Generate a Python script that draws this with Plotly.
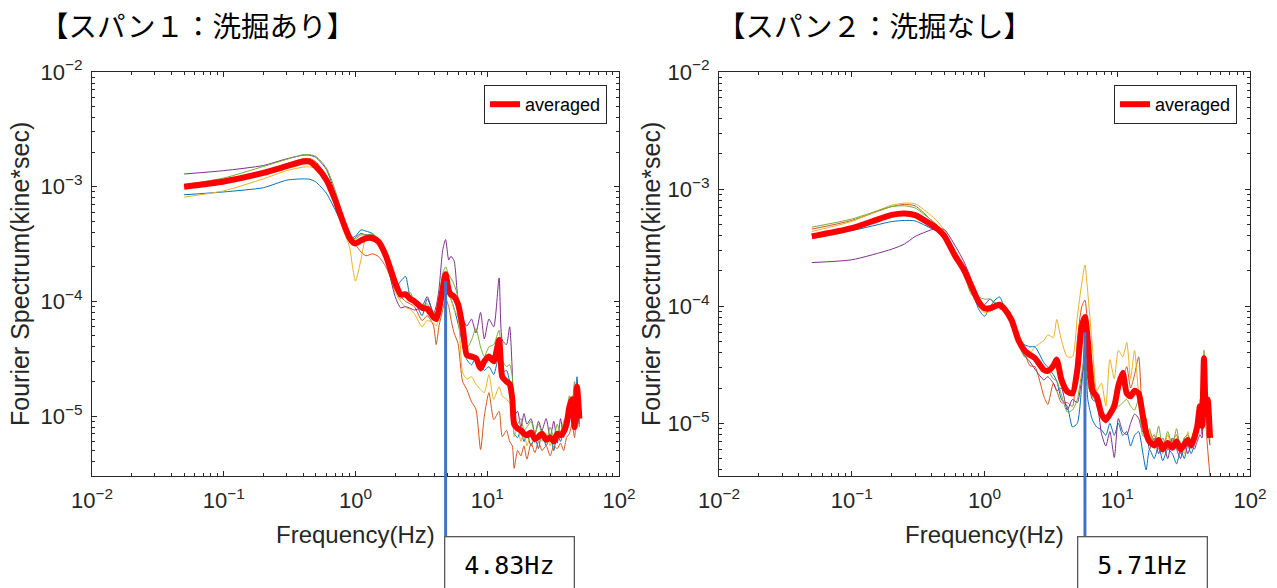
import numpy as np
import plotly.graph_objects as go

W, H = 1277, 588

# ---------------- data : span 1 (scour) ----------------
freq_L = [0.05, 0.1, 0.2, 0.3, 0.4, 0.45, 0.5, 0.6, 0.7, 0.8,
          0.9, 0.95, 1.0, 1.1, 1.2, 1.35, 1.5, 1.7, 2.0, 2.2,
          2.4, 2.6, 2.8, 3.2, 3.5, 3.9, 4.1, 4.3, 4.6, 4.83,
          5.1, 5.3, 5.6, 6.0, 6.5, 7.0, 7.6, 8.2, 8.9, 9.5,
          10.3, 11.2, 12.3, 13, 14, 14.8, 15.5, 16, 17, 18,
          19, 20, 21.5, 23, 24.5, 26, 28, 30, 32, 34,
          36, 38, 40, 42, 44, 46, 48, 50]

blue_L = [8.5e-4, 9.0e-4, 9.8e-4, 1.14e-3, 1.17e-3, 1.16e-3, 1.1e-3, 8.8e-4, 6.3e-4, 4.6e-4,
          3.7e-4, 3.6e-4, 3.7e-4, 4.2e-4, 4.1e-4, 3.9e-4, 3.4e-4, 2.3e-4, 1.3e-4, 1.5e-4,
          1.65e-4, 1.1e-4, 1.03e-4, 7.5e-5, 1.05e-4, 8.0e-5, 7.5e-5, 9.0e-5, 1.25e-4, 1.5e-4,
          1.2e-4, 1.05e-4, 8.7e-5, 6.4e-5, 4.3e-5, 3.1e-5, 2.8e-5, 3.3e-5, 2.8e-5, 2.5e-5,
          2.7e-5, 2.3e-5, 3.4e-5, 2.4e-5, 2.5e-5, 2.0e-5, 1.65e-5, 7.0e-6, 6.5e-6, 7.5e-6,
          6.0e-6, 7.0e-6, 5.5e-6, 6.5e-6, 5.2e-6, 7.5e-6, 5.5e-6, 6.8e-6, 5.0e-6, 7.0e-6,
          6.0e-6, 7.5e-6, 9.0e-6, 1.3e-5, 1.1e-5, 8.0e-6, 2.2e-5, 9.0e-6]
orange_L = [1.0e-3, 1.12e-3, 1.36e-3, 1.58e-3, 1.75e-3, 1.76e-3, 1.65e-3, 1.25e-3, 8.0e-4, 5.0e-4,
            3.4e-4, 3.2e-4, 3.1e-4, 2.7e-4, 2.5e-4, 2.6e-4, 2.45e-4, 2.0e-4, 1.3e-4, 1.1e-4,
            1.0e-4, 9.5e-5, 9.0e-5, 6.8e-5, 7.5e-5, 6.2e-5, 4.2e-5, 6.1e-5, 8.5e-5, 1.05e-4,
            9.0e-5, 7.0e-5, 5.3e-5, 4.3e-5, 2.0e-5, 1.7e-5, 1.33e-5, 1.15e-5, 5.1e-6, 1.0e-5,
            1.6e-5, 9.3e-6, 1.1e-5, 6.6e-6, 7.5e-6, 6.0e-6, 5.5e-6, 3.5e-6, 5.0e-6, 4.5e-6,
            5.5e-6, 4.2e-6, 5.8e-6, 4.8e-6, 6.0e-6, 5.0e-6, 5.5e-6, 4.5e-6, 5.5e-6, 5.2e-6,
            5.8e-6, 5.0e-6, 6.5e-6, 7.0e-6, 8.5e-6, 6.5e-6, 1.2e-5, 8.0e-6]
yellow_L = [8.1e-4, 9.2e-4, 1.17e-3, 1.38e-3, 1.48e-3, 1.49e-3, 1.43e-3, 1.18e-3, 7.8e-4, 4.3e-4,
            3.0e-4, 2.0e-4, 1.5e-4, 2.3e-4, 3.6e-4, 3.8e-4, 3.2e-4, 2.3e-4, 1.2e-4, 1.0e-4,
            8.9e-5, 8.5e-5, 7.8e-5, 6.0e-5, 6.8e-5, 6.5e-5, 6.1e-5, 7.2e-5, 1.0e-4, 1.27e-4,
            1.1e-4, 1.05e-4, 8.5e-5, 7.3e-5, 2.4e-5, 2.1e-5, 2.2e-5, 1.9e-5, 1.7e-5, 1.6e-5,
            2.3e-5, 1.4e-5, 1.8e-5, 1.5e-5, 1.4e-5, 1.3e-5, 1.2e-5, 6.6e-6, 8.0e-6, 6.0e-6,
            7.5e-6, 5.5e-6, 7.0e-6, 5.8e-6, 7.2e-6, 6.0e-6, 7.0e-6, 5.5e-6, 6.8e-6, 6.0e-6,
            7.5e-6, 7.0e-6, 8.5e-6, 1.2e-5, 1.1e-5, 9.0e-6, 1.5e-5, 1.1e-5]
purple_L = [1.29e-3, 1.38e-3, 1.53e-3, 1.75e-3, 1.88e-3, 1.88e-3, 1.8e-3, 1.42e-3, 8.8e-4, 5.2e-4,
            3.6e-4, 3.4e-4, 3.6e-4, 3.9e-4, 3.8e-4, 3.8e-4, 3.3e-4, 2.3e-4, 1.1e-4, 8.8e-5,
            9.0e-5, 8.7e-5, 8.4e-5, 9.0e-5, 1.1e-4, 7.8e-5, 9.1e-5, 1.27e-4, 2.84e-4, 3.46e-4,
            2.3e-4, 2.47e-4, 2.26e-4, 1.03e-4, 7.1e-5, 6.1e-5, 7.0e-5, 5.3e-5, 8.0e-5, 4.7e-5,
            7.0e-5, 6.0e-5, 1.6e-4, 4.6e-5, 4.2e-5, 6.0e-5, 2.4e-5, 1.0e-5, 1.1e-5, 8.0e-6,
            1.05e-5, 8.5e-6, 9.5e-6, 7.0e-6, 9.0e-6, 7.5e-6, 9.5e-6, 6.5e-6, 9.0e-6, 5.8e-6,
            9.5e-6, 6.5e-6, 9.0e-6, 1.1e-5, 1.2e-5, 8.5e-6, 1.1e-5, 8.5e-6]
green_L = [1.04e-3, 1.19e-3, 1.5e-3, 1.73e-3, 1.9e-3, 1.9e-3, 1.84e-3, 1.46e-3, 9.4e-4, 5.4e-4,
           3.8e-4, 3.6e-4, 3.5e-4, 3.8e-4, 3.8e-4, 3.85e-4, 3.5e-4, 2.4e-4, 1.3e-4, 1.05e-4,
           1.18e-4, 1.2e-4, 1.0e-4, 9.3e-5, 9.5e-5, 8.0e-5, 8.0e-5, 1.07e-4, 1.77e-4, 2.0e-4,
           1.7e-4, 1.6e-4, 1.4e-4, 1.1e-4, 4.6e-5, 3.9e-5, 4.6e-5, 5.8e-5, 4.0e-5, 3.3e-5,
           4.0e-5, 4.2e-5, 5.6e-5, 3.1e-5, 2.7e-5, 2.8e-5, 2.2e-5, 1.0e-5, 8.5e-6, 9.5e-6,
           7.5e-6, 8.0e-6, 9.0e-6, 7.0e-6, 8.5e-6, 7.0e-6, 6.0e-6, 8.0e-6, 6.5e-6, 8.5e-6,
           7.0e-6, 9.0e-6, 1.0e-5, 1.5e-5, 1.3e-5, 2.0e-5, 1.4e-5, 1.0e-5]
avg_L = [1.0e-3, 1.11e-3, 1.32e-3, 1.51e-3, 1.66e-3, 1.65e-3, 1.5e-3, 1.15e-3, 7.7e-4, 5.0e-4,
         3.6e-4, 3.3e-4, 3.2e-4, 3.4e-4, 3.55e-4, 3.55e-4, 3.3e-4, 2.5e-4, 1.45e-4, 1.15e-4,
         1.15e-4, 1.05e-4, 1.0e-4, 8.8e-5, 8.6e-5, 7.3e-5, 7.0e-5, 8.5e-5, 1.3e-4, 1.72e-4,
         1.25e-4, 1.15e-4, 1.1e-4, 9.5e-5, 6.0e-5, 3.4e-5, 3.3e-5, 3.2e-5, 2.6e-5, 3.0e-5,
         3.3e-5, 3.0e-5, 4.6e-5, 2.2e-5, 2.0e-5, 1.9e-5, 1.4e-5, 8.5e-6, 7.8e-6, 7.5e-6,
         7.0e-6, 6.8e-6, 7.2e-6, 6.3e-6, 6.6e-6, 7.0e-6, 6.2e-6, 6.5e-6, 6.0e-6, 7.0e-6,
         6.8e-6, 7.3e-6, 8.5e-6, 1.2e-5, 1.4e-5, 8.0e-6, 1.8e-5, 9.5e-6]

# ---------------- data : span 2 (no scour) ----------------
freq_R = [0.05, 0.1, 0.2, 0.25, 0.3, 0.4, 0.45, 0.5, 0.6, 0.7,
          0.8, 0.9, 1.0, 1.1, 1.2, 1.3, 1.4, 1.6, 1.8, 2.0,
          2.2, 2.4, 2.8, 3.0, 3.3, 3.5, 3.8, 4.2, 4.6, 5.0,
          5.4, 5.71, 6.0, 6.5, 7.0, 7.6, 8.2, 8.8, 9.5, 10.2,
          11, 11.8, 12.6, 13.5, 14.5, 15.5, 16.5, 17.5, 19, 20.5,
          22, 24, 26, 28, 30, 32, 34, 36, 38, 40,
          42, 43.5, 45, 46.5, 48, 50]

blue_R = [4.1e-4, 4.43e-4, 5.28e-4, 5.4e-4, 5.35e-4, 4.6e-4, 4.35e-4, 3.9e-4, 2.7e-4, 2.0e-4,
          1.45e-4, 9.5e-5, 8.2e-5, 9.8e-5, 1.13e-4, 1.2e-4, 1.0e-4, 7.5e-5, 5.2e-5, 4.7e-5,
          4.5e-5, 4.5e-5, 3.3e-5, 3.0e-5, 2.6e-5, 2.3e-5, 1.6e-5, 1.4e-5, 9.3e-6, 1.0e-5,
          2.1e-5, 5.1e-5, 1.6e-5, 1.07e-5, 9.3e-6, 8.8e-6, 7.9e-6, 1.0e-5, 7.9e-6, 1.0e-5,
          7.9e-6, 8.5e-6, 6.4e-6, 7.9e-6, 8.5e-6, 5.8e-6, 4.0e-6, 6.0e-6, 5.0e-6, 6.5e-6,
          4.8e-6, 6.0e-6, 5.5e-6, 4.5e-6, 6.0e-6, 5.0e-6, 6.5e-6, 5.5e-6, 6.5e-6, 8.0e-6,
          1.5e-5, 9.0e-6, 2.3e-5, 1.4e-5, 1.3e-5, 8.0e-6]
orange_R = [4.55e-4, 5.4e-4, 7.1e-4, 7.4e-4, 7.2e-4, 5.4e-4, 4.8e-4, 3.9e-4, 2.6e-4, 1.95e-4,
            1.45e-4, 1.05e-4, 9.5e-5, 9.2e-5, 9.5e-5, 1.0e-4, 9.5e-5, 7.6e-5, 5.0e-5, 4.0e-5,
            3.1e-5, 3.05e-5, 1.7e-5, 1.45e-5, 2.2e-5, 1.9e-5, 1.5e-5, 1.5e-5, 1.4e-5, 5.1e-5,
            9.9e-5, 1.13e-4, 6.7e-5, 3.0e-5, 1.6e-5, 1.2e-5, 1.0e-5, 1.2e-5, 1.6e-5, 1.8e-5,
            2.4e-5, 3.05e-5, 2.0e-5, 2.6e-5, 3.7e-5, 1.3e-5, 1.1e-5, 7.0e-6, 8.0e-6, 6.0e-6,
            7.5e-6, 6.0e-6, 7.0e-6, 8.0e-6, 5.5e-6, 7.5e-6, 6.5e-6, 7.0e-6, 8.5e-6, 9.0e-6,
            1.2e-5, 8.0e-6, 3.2e-5, 1.0e-5, 6.0e-6, 3.5e-6]
yellow_R = [4.35e-4, 5.3e-4, 7.3e-4, 7.6e-4, 7.5e-4, 5.9e-4, 5.2e-4, 4.4e-4, 2.9e-4, 2.1e-4,
            1.5e-4, 1.0e-4, 8.8e-5, 9.0e-5, 9.8e-5, 1.05e-4, 1.0e-4, 8.0e-5, 5.5e-5, 4.2e-5,
            4.0e-5, 4.5e-5, 5.1e-5, 5.7e-5, 5.4e-5, 7.7e-5, 5.1e-5, 3.7e-5, 3.7e-5, 8.1e-5,
            1.57e-4, 2.25e-4, 1.3e-4, 4.5e-5, 1.9e-5, 2.2e-5, 1.4e-5, 3.5e-5, 2.4e-5, 4.2e-5,
            3.7e-5, 4.9e-5, 2.4e-5, 4.2e-5, 1.8e-5, 1.3e-5, 8.0e-6, 8.5e-6, 6.0e-6, 7.5e-6,
            5.5e-6, 8.0e-6, 6.0e-6, 7.5e-6, 6.5e-6, 5.5e-6, 8.5e-6, 6.0e-6, 7.5e-6, 1.0e-5,
            1.6e-5, 1.1e-5, 2.6e-5, 1.5e-5, 1.2e-5, 7.0e-6]
purple_R = [2.36e-4, 2.49e-4, 3.07e-4, 3.4e-4, 3.94e-4, 4.5e-4, 4.6e-4, 4.5e-4, 3.3e-4, 2.4e-4,
            1.65e-4, 1.05e-4, 1.03e-4, 1.15e-4, 1.05e-4, 9.5e-5, 9.2e-5, 7.2e-5, 5.0e-5, 3.8e-5,
            3.35e-5, 2.9e-5, 2.35e-5, 2.5e-5, 2.2e-5, 1.9e-5, 2.0e-5, 1.3e-5, 1.6e-5, 1.5e-5,
            2.4e-5, 3.5e-5, 2.4e-5, 1.6e-5, 1.5e-5, 8.2e-6, 6.4e-6, 8.5e-6, 5.1e-6, 1.1e-5,
            8.5e-6, 8.0e-6, 1.0e-5, 1.2e-5, 1.1e-5, 8.5e-6, 8.5e-6, 6.0e-6, 7.5e-6, 5.5e-6,
            7.0e-6, 5.0e-6, 7.5e-6, 6.0e-6, 5.0e-6, 7.0e-6, 5.5e-6, 6.5e-6, 6.0e-6, 7.0e-6,
            8.0e-6, 7.5e-6, 1.6e-5, 1.2e-5, 9.0e-6, 6.5e-6]
green_R = [4.73e-4, 5.55e-4, 7.1e-4, 7.2e-4, 6.9e-4, 5.4e-4, 4.7e-4, 4.0e-4, 2.6e-4, 1.9e-4,
           1.25e-4, 1.2e-4, 1.15e-4, 1.15e-4, 1.08e-4, 1.0e-4, 9.5e-5, 7.0e-5, 4.8e-5, 3.7e-5,
           3.7e-5, 3.4e-5, 2.7e-5, 2.8e-5, 2.4e-5, 2.3e-5, 1.75e-5, 1.25e-5, 1.3e-5, 1.6e-5,
           2.7e-5, 3.7e-5, 2.1e-5, 1.7e-5, 1.5e-5, 1.3e-5, 1.1e-5, 1.3e-5, 1.6e-5, 1.4e-5,
           1.5e-5, 1.6e-5, 1.4e-5, 1.3e-5, 1.6e-5, 8.0e-6, 7.5e-6, 9.0e-6, 6.5e-6, 9.5e-6,
           6.0e-6, 8.5e-6, 6.5e-6, 9.0e-6, 6.0e-6, 7.5e-6, 8.0e-6, 7.0e-6, 9.0e-6, 1.0e-5,
           1.4e-5, 1.2e-5, 4.2e-5, 1.1e-5, 1.1e-5, 7.5e-6]
avg_R = [3.95e-4, 4.64e-4, 6.03e-4, 6.2e-4, 6.0e-4, 4.95e-4, 4.5e-4, 3.95e-4, 2.7e-4, 2.04e-4,
         1.47e-4, 1.1e-4, 9.6e-5, 9.6e-5, 1.0e-4, 1.03e-4, 9.6e-5, 7.6e-5, 5.15e-5, 4.2e-5,
         3.84e-5, 3.6e-5, 2.86e-5, 2.8e-5, 3.1e-5, 3.5e-5, 2.35e-5, 1.87e-5, 1.8e-5, 2.85e-5,
         6.7e-5, 8.1e-5, 5.1e-5, 1.9e-5, 1.7e-5, 1.2e-5, 1.07e-5, 1.2e-5, 1.4e-5, 2.1e-5,
         2.7e-5, 1.8e-5, 1.7e-5, 1.9e-5, 1.8e-5, 1.2e-5, 8.3e-6, 7.0e-6, 6.5e-6, 7.2e-6,
         6.0e-6, 6.8e-6, 6.2e-6, 7.0e-6, 6.0e-6, 6.6e-6, 7.2e-6, 6.5e-6, 7.5e-6, 9.3e-6,
         1.4e-5, 9.5e-6, 3.6e-5, 1.2e-5, 1.6e-5, 7.5e-6]

titles = ["【スパン１：洗掘あり】", "【スパン２：洗掘なし】"]
peak_freqs = [4.83, 5.71]
peak_marker_top = [1.5e-4, 6.0e-5]
peak_labels = ["4.83Hz", "5.71Hz"]
x_title = "Frequency(Hz)"
y_title = "Fourier Spectrum(kine*sec)"
legend_label = "averaged"

x_tickvals = [1e-2, 1e-1, 1e0, 1e1, 1e2]
x_ticktext = ["10<sup>−2</sup>", "10<sup>−1</sup>", "10<sup>0</sup>", "10<sup>1</sup>", "10<sup>2</sup>"]
y_tickvals = [1e-5, 1e-4, 1e-3, 1e-2]
y_ticktext = ["10<sup>−5</sup>", "10<sup>−4</sup>", "10<sup>−3</sup>", "10<sup>−2</sup>"]
y_bottoms = [3.0e-6, 3.55e-6]

series_colors = ["#0072BD", "#D95319", "#EDB120", "#7E2F8E", "#77AC30"]
AX = "#262626"

# ---------------- layout geometry ----------------
xdoms = [[92 / W, 619 / W], [719 / W, 1250 / W]]
ydom = [1 - 476 / H, 1 - 72 / H]

fig = go.Figure()

panels = [
    (freq_L, [blue_L, orange_L, yellow_L, purple_L, green_L], avg_L),
    (freq_R, [blue_R, orange_R, yellow_R, purple_R, green_R], avg_R),
]

x_minor = [k * 10.0 ** n for n in range(-2, 2) for k in range(2, 10)]
y_minor = [k * 10.0 ** n for n in range(-6, -2) for k in range(2, 10)]

for i, (fr, series, avg) in enumerate(panels):
    xa = "x" if i == 0 else "x2"
    ya = "y" if i == 0 else "y2"
    lg = "legend" if i == 0 else "legend2"
    for s, c in zip(series, series_colors):
        fig.add_trace(go.Scatter(x=fr, y=s, mode="lines", xaxis=xa, yaxis=ya,
                                 line=dict(color=c, width=1, shape="spline", smoothing=0.6),
                                 showlegend=False, hoverinfo="skip"))
    fig.add_trace(go.Scatter(x=fr, y=avg, mode="lines", xaxis=xa, yaxis=ya,
                             line=dict(color="#FF0000", width=6, shape="spline", smoothing=0.6),
                             name=legend_label, legend=lg, showlegend=True))

def axis_common():
    return dict(type="log", showgrid=False, zeroline=False, showline=True, automargin=False,
                linecolor=AX, linewidth=1, mirror="ticks", ticks="inside",
                ticklen=5, tickwidth=1, tickcolor=AX,
                tickfont=dict(family="Liberation Sans, Arial", size=22, color=AX),
                minor=dict(ticks="inside", ticklen=3, tickwidth=1, tickcolor=AX, showgrid=False))

for i in range(2):
    xk = "xaxis" if i == 0 else "xaxis2"
    yk = "yaxis" if i == 0 else "yaxis2"
    xa = axis_common()
    xa.update(domain=xdoms[i], range=[-2, 2], tickmode="array", tickvals=x_tickvals,
              ticktext=x_ticktext, anchor="y" if i == 0 else "y2", ticklabelstandoff=5)
    xa["minor"].update(tickmode="array", tickvals=x_minor)
    ya = axis_common()
    ya.update(domain=ydom, range=[np.log10(y_bottoms[i]), -2], tickmode="array",
              tickvals=y_tickvals, ticktext=y_ticktext, anchor="x" if i == 0 else "x2",
              ticklabelstandoff=4)
    ya["minor"].update(tickmode="array", tickvals=[v for v in y_minor if v > y_bottoms[i]])
    fig.update_layout(**{xk: xa, yk: ya})

annotations = []
shapes = []
for i in range(2):
    xref = "x" if i == 0 else "x2"
    yref = "y" if i == 0 else "y2"
    cx = (xdoms[i][0] + xdoms[i][1]) / 2
    # panel titles
    annotations.append(dict(text=titles[i], xref="paper", yref="paper",
                            x=(38 if i == 0 else 715) / W, y=1 - 25 / H,
                            xanchor="left", yanchor="middle", showarrow=False,
                            font=dict(family="Noto Sans CJK JP", size=28.5, color="#000000")))
    # axis titles
    annotations.append(dict(text=x_title, xref="paper", yref="paper", x=cx, y=1 - 534 / H,
                            xanchor="center", yanchor="middle", showarrow=False,
                            font=dict(family="Liberation Sans, Arial", size=24, color=AX)))
    annotations.append(dict(text=y_title, xref="paper", yref="paper",
                            x=(20 if i == 0 else 651) / W, y=1 - 274 / H,
                            xanchor="center", yanchor="middle", textangle=-90, showarrow=False,
                            font=dict(family="Liberation Sans, Arial", size=25, color=AX)))
    # peak marker line (inside axes, then below the axes down to the label box)
    shapes.append(dict(type="line", xref=xref, yref=yref, x0=peak_freqs[i], x1=peak_freqs[i],
                       y0=peak_marker_top[i], y1=1e-7, line=dict(color="#4472C4", width=3)))
    shapes.append(dict(type="line", xref=xref, yref=yref + " domain", x0=peak_freqs[i],
                       x1=peak_freqs[i], y0=0, y1=-60 / 404, line=dict(color="#4472C4", width=3)))
    # label box
    annotations.append(dict(text=peak_labels[i], xref=xref, yref=yref + " domain",
                            x=np.log10(peak_freqs[i]), y=-60 / 404, xanchor="left", yanchor="top",
                            xshift=-2 if i == 0 else -8, showarrow=False,
                            width=128, height=56, align="center", valign="middle",
                            bgcolor="white", bordercolor="#595959", borderwidth=1.3, borderpad=0,
                            font=dict(family="DejaVu Sans Mono", size=25, color="#000000")))

fig.update_layout(
    width=W, height=H, margin=dict(l=0, r=0, t=0, b=0, autoexpand=False),
    paper_bgcolor="white", plot_bgcolor="white",
    annotations=annotations, shapes=shapes,
    legend=dict(x=607 / W, y=1 - 85 / H, xanchor="right", yanchor="top",
                bgcolor="white", bordercolor=AX, borderwidth=1,
                font=dict(family="Liberation Sans, Arial", size=18, color="#000000"),
                tracegroupgap=0, itemwidth=30),
    legend2=dict(x=1237 / W, y=1 - 85 / H, xanchor="right", yanchor="top",
                 bgcolor="white", bordercolor=AX, borderwidth=1,
                 font=dict(family="Liberation Sans, Arial", size=18, color="#000000"),
                 tracegroupgap=0, itemwidth=30),
)

fig.write_html("out.html")
